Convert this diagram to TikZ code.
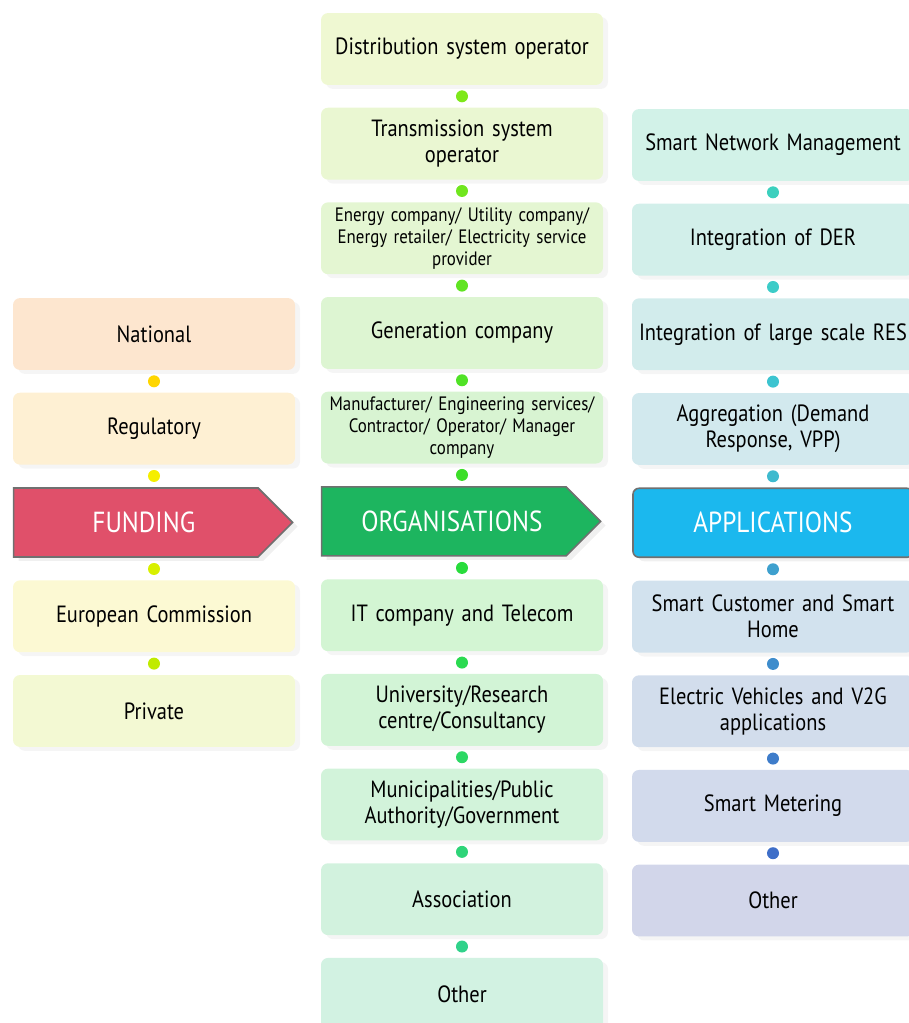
\documentclass[tikz,border=0pt]{standalone}
\usepackage{fontspec}
\setmainfont{PT Sans}[FakeStretch=0.87]
\usepackage{tikz}
\usetikzlibrary{positioning,shapes.symbols,shadows}
\usepackage{xcolor}

\definecolor{natc}{HTML}{FDE6CF}
\definecolor{regc}{HTML}{FEF0D3}
\definecolor{euc}{HTML}{FCF9D3}
\definecolor{privc}{HTML}{F3F9D3}
\definecolor{fundc}{HTML}{E0506A}
\definecolor{orgc}{HTML}{1DB55F}
\definecolor{appc}{HTML}{1BB8EE}
\definecolor{edgec}{HTML}{707070}

\begin{document}
\begin{tikzpicture}[x=1pt,y=-1pt,
    node distance=5pt,
    box/.style={rounded corners=7pt,minimum width=282pt,minimum height=71.85pt,
      text width=276pt,align=center,inner sep=2pt,text=black,
      font=\fontsize{23.5}{26}\selectfont,
      drop shadow={opacity=0.08,shadow xshift=5pt,shadow yshift=-4pt}},
    small/.style={font=\fontsize{19.4}{22}\selectfont},
    dot/.style={circle,inner sep=0pt,minimum size=12pt},
    head/.style={draw=edgec,line width=1.6pt,text=white,minimum height=69pt,
      font=\fontsize{29}{32}\selectfont,
      drop shadow={opacity=0.12,shadow xshift=5pt,shadow yshift=-4pt}},
    arrowhead/.style={head,signal,signal to=east,signal pointer angle=90,
      minimum width=279pt,anchor=north west}]
  \useasboundingbox (0,0) rectangle (908,1023);

  % funding column
  \node[box,fill=natc] (national) at (154,334) {National};
  \node[dot,fill={rgb,255:red,255;green,214;blue,0},below=of national] (fd1) {};
  \node[box,fill=regc,below=of fd1] (regulatory) {Regulatory};
  \node[dot,fill={rgb,255:red,245;green,238;blue,0},below=of regulatory] (fd2) {};
  \node[arrowhead,fill=fundc] (funding) at ([yshift=-5pt]fd2.south -| regulatory.west) {\hspace*{16pt}FUNDING};
  \node[dot,fill={rgb,255:red,216;green,240;blue,0},below=of fd2|-funding.south] (fd3) {};
  \node[box,fill=euc,below=of fd3] (commission) {European Commission};
  \node[dot,fill={rgb,255:red,192;green,235;blue,0},below=of commission] (fd4) {};
  \node[box,fill=privc,below=of fd4] (private) {Private};

  % organisations column
  \node[box,fill={rgb,255:red,239;green,248;blue,210}] (dso) at (462,49) {Distribution system operator};
  \node[dot,fill={rgb,255:red,126;green,232;blue,26},below=of dso] (od1) {};
  \node[box,fill={rgb,255:red,234;green,247;blue,210},below=of od1] (tso) {Transmission system\\operator};
  \node[dot,fill={rgb,255:red,112;green,230;blue,30},below=of tso] (od2) {};
  \node[box,small,fill={rgb,255:red,228;green,246;blue,210},below=of od2] (energy) {Energy company/ Utility company/\\Energy retailer/ Electricity service\\provider};
  \node[dot,fill={rgb,255:red,96;green,228;blue,34},below=of energy] (od3) {};
  \node[box,fill={rgb,255:red,221;green,245;blue,210},below=of od3] (generation) {Generation company};
  \node[dot,fill={rgb,255:red,80;green,226;blue,38},below=of generation] (od4) {};
  \node[box,small,fill={rgb,255:red,216;green,244;blue,210},below=of od4] (manufacturer) {Manufacturer/ Engineering services/\\Contractor/ Operator/ Manager\\company};
  \node[dot,fill={rgb,255:red,60;green,222;blue,40},below=of manufacturer] (od5) {};
  \node[arrowhead,fill=orgc] (organisations) at ([yshift=-5pt]od5.south -| manufacturer.west) {\hspace*{16pt}ORGANISATIONS};
  \node[dot,fill={rgb,255:red,40;green,220;blue,60},below=of od5|-organisations.south] (od6) {};
  \node[box,fill={rgb,255:red,211;green,245;blue,211},below=of od6] (telecom) {IT company and Telecom};
  \node[dot,fill={rgb,255:red,42;green,218;blue,80},below=of telecom] (od7) {};
  \node[box,fill={rgb,255:red,210;green,244;blue,214},below=of od7] (university) {University/Research\\centre/Consultancy};
  \node[dot,fill={rgb,255:red,44;green,216;blue,100},below=of university] (od8) {};
  \node[box,fill={rgb,255:red,210;green,243;blue,218},below=of od8] (municipal) {Municipalities/Public\\Authority/Government};
  \node[dot,fill={rgb,255:red,46;green,212;blue,120},below=of municipal] (od9) {};
  \node[box,fill={rgb,255:red,210;green,242;blue,222},below=of od9] (association) {Association};
  \node[dot,fill={rgb,255:red,48;green,210;blue,138},below=of association] (od10) {};
  \node[box,fill={rgb,255:red,210;green,242;blue,226},below=of od10] (orgother) {Other};

  % applications column
  \node[box,fill={rgb,255:red,210;green,242;blue,232}] (network) at (773,145) {Smart Network Management};
  \node[dot,fill={rgb,255:red,60;green,208;blue,190},below=of network] (ad1) {};
  \node[box,fill={rgb,255:red,210;green,239;blue,234},below=of ad1] (der) {Integration of DER};
  \node[dot,fill={rgb,255:red,60;green,204;blue,200},below=of der] (ad2) {};
  \node[box,fill={rgb,255:red,210;green,236;blue,236},below=of ad2] (res) {Integration of large scale RES};
  \node[dot,fill={rgb,255:red,60;green,196;blue,208},below=of res] (ad3) {};
  \node[box,fill={rgb,255:red,210;green,233;blue,238},below=of ad3] (aggregation) {Aggregation (Demand\\Response, VPP)};
  \node[dot,fill={rgb,255:red,62;green,186;blue,206},below=of aggregation] (ad4) {};
  \node[head,rounded corners=6pt,minimum width=280pt,fill=appc,below=of ad4] (applications) {APPLICATIONS};
  \node[dot,fill={rgb,255:red,62;green,160;blue,206},below=of applications] (ad5) {};
  \node[box,fill={rgb,255:red,210;green,226;blue,238},below=of ad5] (customer) {Smart Customer and Smart\\Home};
  \node[dot,fill={rgb,255:red,62;green,140;blue,204},below=of customer] (ad6) {};
  \node[box,fill={rgb,255:red,210;green,221;blue,236},below=of ad6] (vehicles) {Electric Vehicles and V2G\\applications};
  \node[dot,fill={rgb,255:red,62;green,124;blue,202},below=of vehicles] (ad7) {};
  \node[box,fill={rgb,255:red,210;green,218;blue,236},below=of ad7] (metering) {Smart Metering};
  \node[dot,fill={rgb,255:red,62;green,110;blue,200},below=of metering] (ad8) {};
  \node[box,fill={rgb,255:red,210;green,214;blue,234},below=of ad8] (appother) {Other};
\end{tikzpicture}
\end{document}
